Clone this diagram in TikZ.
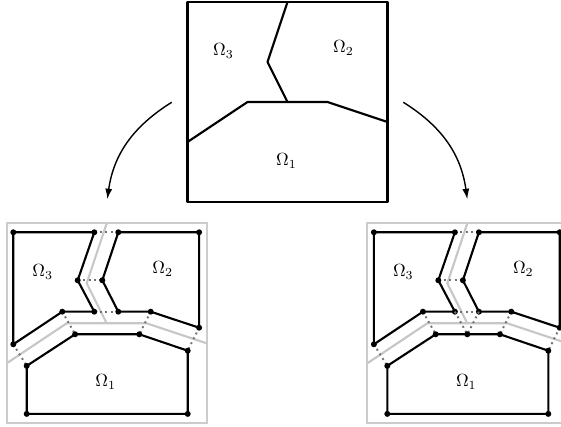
\documentclass[tikz,border=0pt]{standalone}
\usetikzlibrary{arrows.meta}
\newcommand\drawpanel[1]{%
  % partition (gray)
  \coordinate (#1-sw) at (0,0);
  \coordinate (#1-ne) at (10,10);
  \coordinate (#1-A) at (5,10);
  \coordinate (#1-B) at (4,7);
  \coordinate (#1-C) at (5,5);
  \coordinate (#1-D) at (0,3);
  \coordinate (#1-E) at (3,5);
  \coordinate (#1-F) at (7,5);
  \coordinate (#1-G) at (10,4);
  \draw[gbox] (#1-sw) rectangle (#1-ne);
  \draw[gline] (#1-A) -- (#1-B) -- (#1-C);
  \draw[gline] (#1-D) -- (#1-E) -- (#1-F) -- (#1-G);
  % subdomain vertices
  \coordinate (#1-p1) at (0.33,9.55);
  \coordinate (#1-p2) at (4.38,9.55);
  \coordinate (#1-p3) at (3.55,7.15);
  \coordinate (#1-p4) at (4.38,5.58);
  \coordinate (#1-p5) at (2.78,5.58);
  \coordinate (#1-p6) at (0.33,3.95);
  \coordinate (#1-q1) at (5.58,9.55);
  \coordinate (#1-q2) at (9.62,9.55);
  \coordinate (#1-q3) at (9.62,4.78);
  \coordinate (#1-q4) at (7.2,5.58);
  \coordinate (#1-q5) at (5.58,5.58);
  \coordinate (#1-q6) at (4.78,7.15);
  \coordinate (#1-r1) at (1.0,2.87);
  \coordinate (#1-r2) at (3.42,4.45);
  \coordinate (#1-r3) at (6.63,4.45);
  \coordinate (#1-r4) at (9.05,3.63);
  \coordinate (#1-r5) at (9.05,0.47);
  \coordinate (#1-r6) at (1.0,0.47);
  % dotted connectors
  \draw[dline] (#1-p2) -- (#1-q1);
  \draw[dline] (#1-p3) -- (#1-q6);
  \draw[dline] (#1-p4) -- (#1-q5);
  \draw[dline] (#1-p5) -- (#1-r2);
  \draw[dline] (#1-q4) -- (#1-r3);
  \draw[dline] (#1-p6) -- (#1-r1);
  \draw[dline] (#1-q3) -- (#1-r4);
  % subdomains
  \draw[part] (#1-p1) -- (#1-p2) -- (#1-p3) -- (#1-p4) -- (#1-p5) -- (#1-p6) -- cycle;
  \draw[part] (#1-q1) -- (#1-q2) -- (#1-q3) -- (#1-q4) -- (#1-q5) -- (#1-q6) -- cycle;
  \draw[part] (#1-r1) -- (#1-r2) -- (#1-r3) -- (#1-r4) -- (#1-r5) -- (#1-r6) -- cycle;
  \foreach \v in {p1,p2,p3,p4,p5,p6,q1,q2,q3,q4,q5,q6,r1,r2,r3,r4,r5,r6}
    \node[vdot] at (#1-\v) {};
  \node[lab] (#1-l3) at (1.8,7.55) {$\Omega_3$};
  \node[lab] (#1-l2) at (7.8,7.7) {$\Omega_2$};
  \node[lab] (#1-l1) at (4.95,2.05) {$\Omega_1$};
}
\begin{document}
\begin{tikzpicture}[x=0.4cm,y=0.4cm,
  part/.style={line width=1.2pt, line join=round},
  gline/.style={black!22, line width=1.2pt},
  gbox/.style={black!20, line width=1.2pt},
  dline/.style={black!55, dotted, line width=1.1pt},
  vdot/.style={circle, fill=black, inner sep=0pt, minimum size=3.4pt},
  lab/.style={inner sep=0pt},
  arr/.style={line width=0.8pt, -{Latex[length=6pt,width=4pt]}}]
\useasboundingbox (0,0) rectangle (28.05,21.35);
% top box
\begin{scope}[shift={(9.375,11.25)}]
  \coordinate (T-sw) at (0,0);
  \coordinate (T-ne) at (10,10);
  \coordinate (T-A) at (5,10);
  \coordinate (T-B) at (4,7);
  \coordinate (T-C) at (5,5);
  \coordinate (T-D) at (0,3);
  \coordinate (T-E) at (3,5);
  \coordinate (T-F) at (7,5);
  \coordinate (T-G) at (10,4);
  \draw[part] (T-sw) rectangle (T-ne);
  \draw[part] (T-A) -- (T-B) -- (T-C);
  \draw[part] (T-D) -- (T-E) -- (T-F) -- (T-G);
  \node[lab] (T-l3) at (1.8,7.55) {$\Omega_3$};
  \node[lab] (T-l2) at (7.8,7.7) {$\Omega_2$};
  \node[lab] (T-l1) at (4.95,2.05) {$\Omega_1$};
\end{scope}
% left panel
\begin{scope}[shift={(0.335,0.185)}]
  \drawpanel{L}
\end{scope}
% right panel
\begin{scope}[shift={(18.365,0.185)}]
  \drawpanel{R}
  \coordinate (R-r7) at (5.0,4.45);
  \draw[dline] (R-p4) -- (R-r7);
  \draw[dline] (R-q5) -- (R-r7);
  \node[vdot] at (R-r7) {};
\end{scope}
% arrows
\coordinate (aL-s) at (8.585,16.235);
\coordinate (aL-e) at (5.365,11.385);
\coordinate (aR-s) at (20.165,16.235);
\coordinate (aR-e) at (23.365,11.385);
\draw[arr] (aL-s) to[out=212,in=82] (aL-e);
\draw[arr] (aR-s) to[out=-32,in=98] (aR-e);
\end{tikzpicture}
\end{document}
